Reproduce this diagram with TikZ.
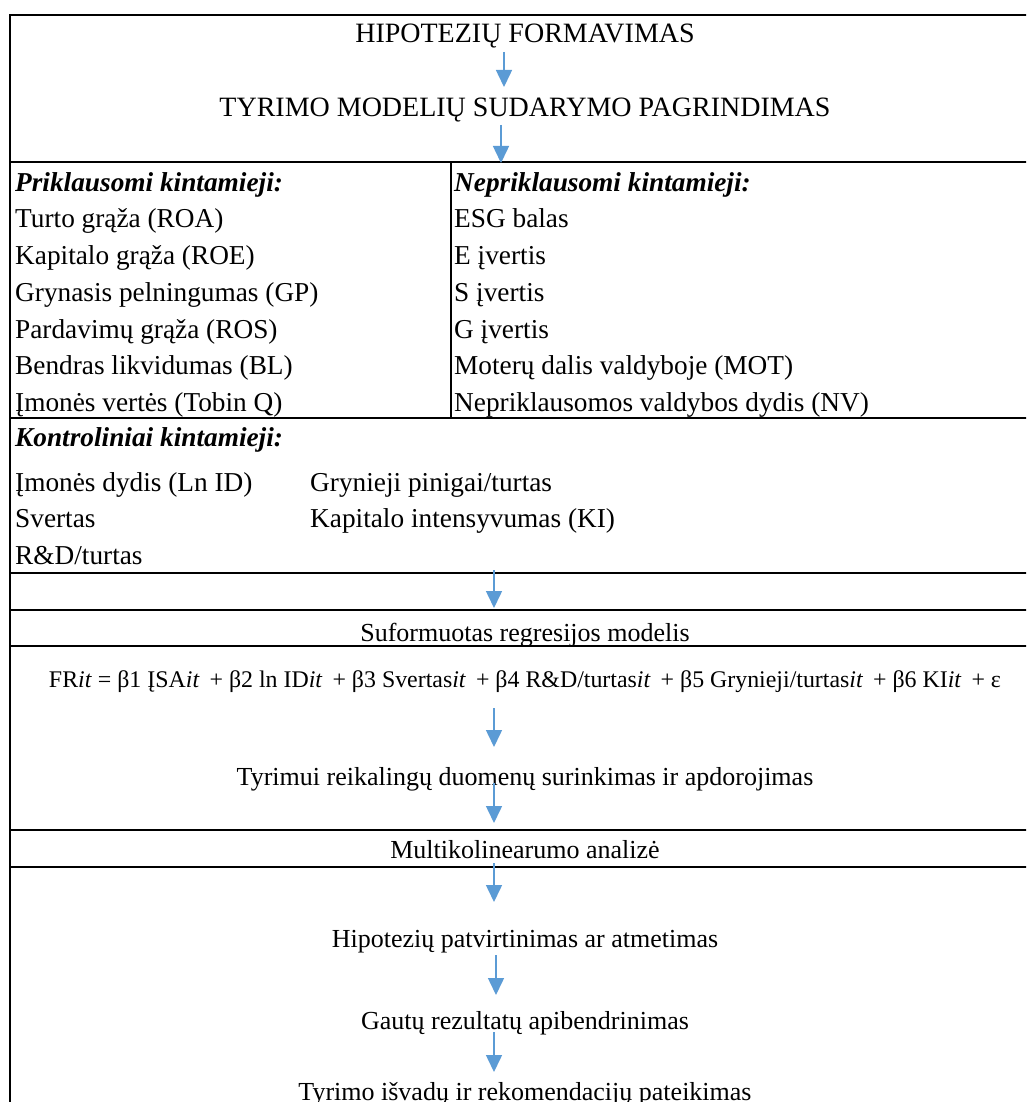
\documentclass[tikz,border=0pt]{standalone}
\usepackage{fontspec}
\setmainfont{Liberation Serif}
\usetikzlibrary{arrows.meta}
\definecolor{arrowblue}{HTML}{5B9BD5}
\begin{document}
\begin{tikzpicture}[x=1pt,y=-1pt,
  txt/.style={anchor=base,inner sep=0pt,font=\fontsize{27.3}{32}\selectfont},
  ttl/.style={txt,font=\fontsize{28}{32}\selectfont},
  low/.style={txt,font=\fontsize{26}{30}\selectfont},
  lt/.style={txt,anchor=base west},
  hd/.style={lt,font=\fontsize{27.3}{32}\selectfont\bfseries\itshape},
  flow/.style={draw=arrowblue,line width=1.5pt,-{Triangle[length=17pt,width=16pt]}},
  rulel/.style={line width=2pt}]
\useasboundingbox (0,0) rectangle (1026,1102);
\clip (0,0) rectangle (1026,1102);
\fill[white] (0,0) rectangle (1026,1102);
% frame and rules
\draw[rulel] (10,1130) -- (10,15) -- (1040,15) -- (1040,1130);
\draw[rulel] (10,162) -- (1040,162);
\draw[rulel] (451,162) -- (451,418);
\draw[rulel] (10,418) -- (1040,418);
\draw[rulel] (10,573) -- (1040,573);
\draw[rulel] (10,610) -- (1040,610);
\draw[rulel] (10,646) -- (1040,646);
\draw[rulel] (10,830) -- (1040,830);
\draw[rulel] (10,867) -- (1040,867);
% texts
\node[ttl] (h1) at (525,43) {HIPOTEZIŲ FORMAVIMAS};
\node[ttl] (h2) at (525,117) {TYRIMO MODELIŲ SUDARYMO PAGRINDIMAS};
\node[hd] (pk) at (15,191) {Priklausomi kintamieji:};
\node[lt] (p1) at (15,227.5) {Turto grąža (ROA)};
\node[lt] (p2) at (15,264.5) {Kapitalo grąža (ROE)};
\node[lt] (p3) at (15,301) {Grynasis pelningumas (GP)};
\node[lt] (p4) at (15,338) {Pardavimų grąža (ROS)};
\node[lt] (p5) at (15,374.5) {Bendras likvidumas (BL)};
\node[lt] (p6) at (15,411) {Įmonės vertės (Tobin Q)};
\node[hd] (nk) at (454,191) {Nepriklausomi kintamieji:};
\node[lt] (n1) at (454,227.5) {ESG balas};
\node[lt] (n2) at (454,264.5) {E įvertis};
\node[lt] (n3) at (454,301) {S įvertis};
\node[lt] (n4) at (454,338) {G įvertis};
\node[lt] (n5) at (454,374.5) {Moterų dalis valdyboje (MOT)};
\node[lt] (n6) at (454,411) {Nepriklausomos valdybos dydis (NV)};
\node[hd] (kk) at (15,446) {Kontroliniai kintamieji:};
\node[lt] (k1) at (15,491) {Įmonės dydis (Ln ID)};
\node[lt] (k2) at (15,527.5) {Svertas};
\node[lt] (k3) at (15,564) {R\&D/turtas};
\node[lt] (k4) at (310,491) {Grynieji pinigai/turtas};
\node[lt] (k5) at (310,527.5) {Kapitalo intensyvumas (KI)};
\node[low] (sm) at (525,641) {Suformuotas regresijos modelis};
\node[txt] (fm) at (525,687) {\resizebox{952pt}{!}{\fontsize{22}{26}\selectfont FR\textit{it} = β1 ĮSA\textit{it}\, + β2 ln ID\textit{it}\, + β3 Svertas\textit{it}\, + β4 R\&D/turtas\textit{it}\, + β5 Grynieji/turtas\textit{it}\, + β6 KI\textit{it}\, + ε}};
\node[low] (dt) at (525,785) {Tyrimui reikalingų duomenų surinkimas ir apdorojimas};
\node[low] (mk) at (525,858) {Multikolinearumo analizė};
\node[low] (hp) at (525,947) {Hipotezių patvirtinimas ar atmetimas};
\node[low] (gr) at (525,1029) {Gautų rezultatų apibendrinimas};
\node[low] (ti) at (525,1100) {Tyrimo išvadų ir rekomendacijų pateikimas};
% arrows
\coordinate (a1s) at (504,52);  \coordinate (a1e) at (504,87);
\coordinate (a2s) at (501,125); \coordinate (a2e) at (501,163);
\coordinate (a3s) at (494,570); \coordinate (a3e) at (494,608);
\coordinate (a4s) at (494,708); \coordinate (a4e) at (494,747);
\coordinate (a5s) at (494,783); \coordinate (a5e) at (494,823);
\coordinate (a6s) at (494,863); \coordinate (a6e) at (494,902);
\coordinate (a7s) at (496,955); \coordinate (a7e) at (496,995);
\coordinate (a8s) at (494,1032); \coordinate (a8e) at (494,1072);
\draw[flow] (a1s) -- (a1e);
\draw[flow] (a2s) -- (a2e);
\draw[flow] (a3s) -- (a3e);
\draw[flow] (a4s) -- (a4e);
\draw[flow] (a5s) -- (a5e);
\draw[flow] (a6s) -- (a6e);
\draw[flow] (a7s) -- (a7e);
\draw[flow] (a8s) -- (a8e);
\end{tikzpicture}
\end{document}
